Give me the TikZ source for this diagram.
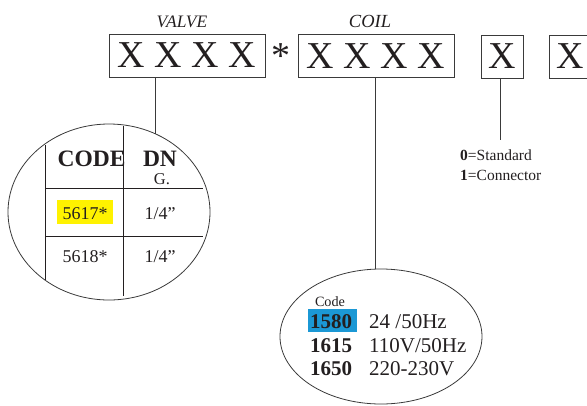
\documentclass[tikz,border=0pt]{standalone}
\usepackage{fontspec}
\setmainfont{Liberation Serif}
\usetikzlibrary{shapes.geometric}
\definecolor{ink}{HTML}{231F20}
\definecolor{linec}{HTML}{3A3A3A}
\definecolor{hlyellow}{HTML}{FFF200}
\definecolor{hlblue}{HTML}{1B98D5}
\tikzset{
  codebox/.style={draw=linec, line width=0.8pt, inner sep=0pt, minimum height=43pt, text=ink, font=\fontsize{38}{40}\selectfont},
  oval/.style={draw=linec, line width=0.8pt, ellipse, inner sep=0pt},
  conn/.style={draw=linec, line width=0.8pt},
  grid/.style={draw=ink, line width=0.8pt},
  lbl/.style={inner sep=0pt, text=ink, anchor=base},
  lblw/.style={inner sep=0pt, text=ink, anchor=base west},
}
\begin{document}
\begin{tikzpicture}[x=1pt,y=-1pt]
\useasboundingbox (0,0) rectangle (587,405);
% top labels
\node[lbl, font=\fontsize{17.5}{20}\selectfont\itshape] (valve) at (182,27) {VALVE};
\node[lbl, font=\fontsize{18.5}{20}\selectfont\itshape] (coil) at (370,27) {COIL};
% code boxes
\node[codebox, minimum width=156pt] (b1) at (187,55.5) {X X X X};
\node[lbl, font=\fontsize{38}{40}\selectfont] (star) at (281,68) {*};
\node[codebox, minimum width=156pt] (b2) at (376,56) {X X X X};
\node[codebox, minimum width=42pt] (b3) at (502,56.5) {X};
\node[codebox, minimum width=42pt] (b4) at (570,56.5) {X};
% ellipses
\node[oval, minimum width=202pt, minimum height=176pt] (e1) at (109,212) {};
\node[oval, minimum width=202pt, minimum height=135pt] (e2) at (381,336.5) {};
% connectors
\coordinate (e1top) at (155,133.7);
\coordinate (e2top) at (375,269.2);
\coordinate (b3end) at (500,140);
\draw[conn] (b1.south -| e1top) -- (e1top);
\draw[conn] (b2.south -| e2top) -- (e2top);
\draw[conn] (b3.south -| b3end) -- (b3end);
% table in ellipse 1
\coordinate (t1) at (45,145);
\coordinate (t2) at (45,280);
\coordinate (t3) at (123,126);
\coordinate (t4) at (123,296);
\coordinate (h1a) at (45,188);
\coordinate (h1b) at (203,188);
\coordinate (h2a) at (45,236);
\coordinate (h2b) at (203,236);
\draw[grid] (t1) -- (t2);
\draw[grid] (t3) -- (t4);
\draw[grid] (h1a) -- (h1b);
\draw[grid] (h2a) -- (h2b);
\fill[hlyellow] (57,200) rectangle (113,224);
\node[lbl, font=\fontsize{23.5}{26}\selectfont\bfseries] (code) at (91.5,166) {CODE};
\node[lbl, font=\fontsize{23.5}{26}\selectfont\bfseries] (dn) at (160,166) {DN};
\node[lbl, font=\fontsize{16.5}{18}\selectfont] (g) at (162,184) {G.};
\node[lbl, font=\fontsize{18}{20}\selectfont] (c1) at (85,219) {5617*};
\node[lbl, font=\fontsize{18}{20}\selectfont] (d1) at (160,219) {1/4”};
\node[lbl, font=\fontsize{18}{20}\selectfont] (c2) at (85,262) {5618*};
\node[lbl, font=\fontsize{18}{20}\selectfont] (d2) at (160,262) {1/4”};
% connector options
\node[lblw, font=\fontsize{15.5}{18}\selectfont] (o0) at (460,160) {\textbf{0}=Standard};
\node[lblw, font=\fontsize{15.5}{18}\selectfont] (o1) at (460,180) {\textbf{1}=Connector};
% coil table
\fill[hlblue] (308,309) rectangle (357,332);
\node[lbl, font=\fontsize{14.2}{16}\selectfont] (cc) at (330,306) {Code};
\node[lblw, font=\fontsize{21}{24}\selectfont\bfseries] (k1) at (310,328) {1580};
\node[lblw, font=\fontsize{21}{24}\selectfont\bfseries] (k2) at (310,352) {1615};
\node[lblw, font=\fontsize{21}{24}\selectfont\bfseries] (k3) at (310,375) {1650};
\node[lblw, font=\fontsize{21}{24}\selectfont] (v1) at (369,328) {24 /50Hz};
\node[lblw, font=\fontsize{21}{24}\selectfont] (v2) at (369,352) {110V/50Hz};
\node[lblw, font=\fontsize{21}{24}\selectfont] (v3) at (369,375) {220-230V};
\end{tikzpicture}
\end{document}
